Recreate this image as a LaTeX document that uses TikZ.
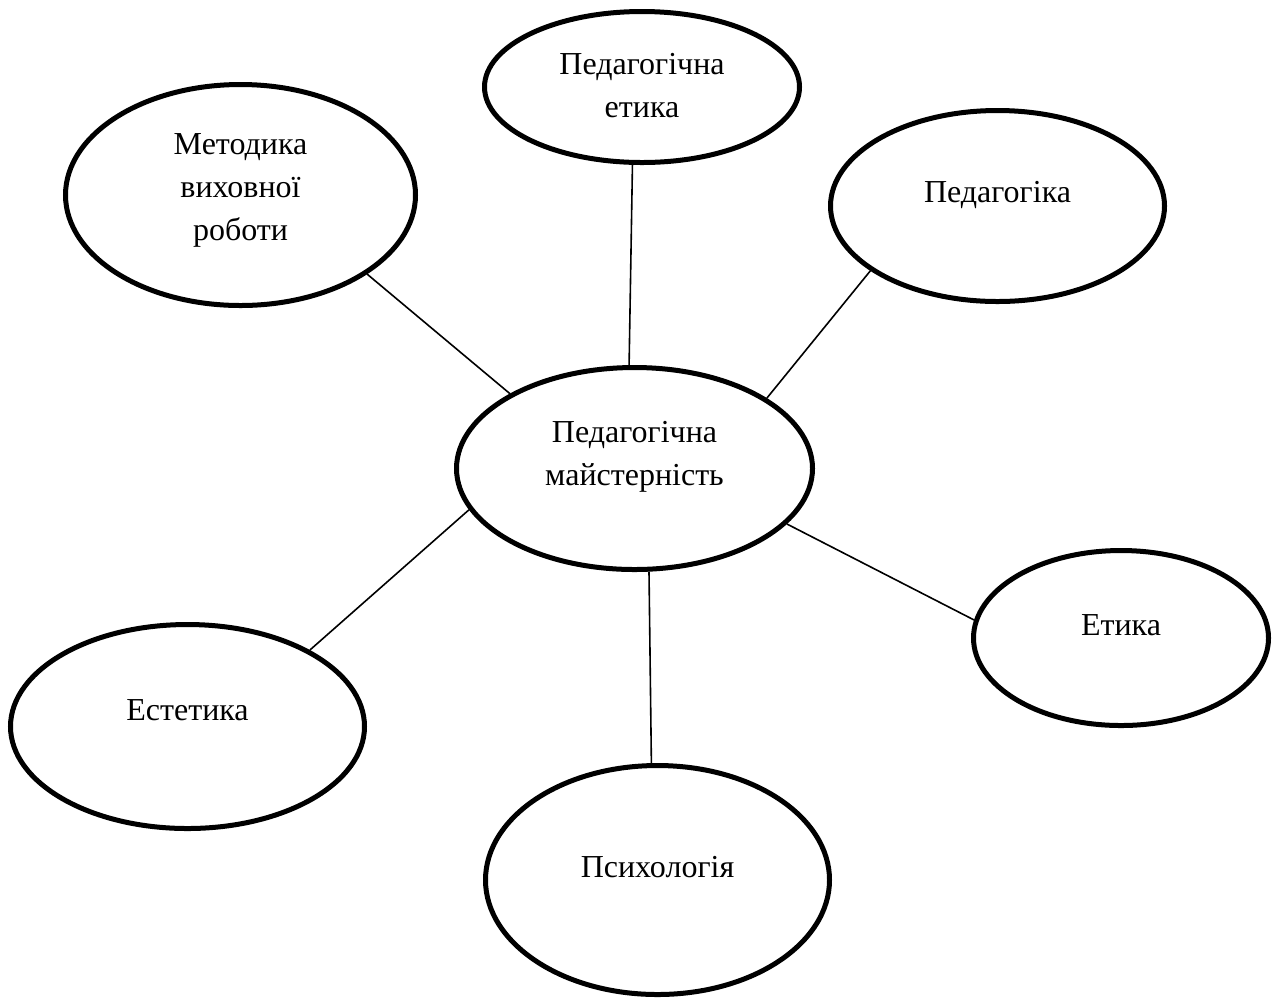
\documentclass[tikz,border=0pt]{standalone}
\usepackage{fontspec}
\setmainfont{Liberation Serif}
\usetikzlibrary{shapes.geometric}

\begin{document}
\begin{tikzpicture}[x=0.5pt,y=-0.5pt,
oval/.style={ellipse,draw,line width=2.5pt,inner sep=0pt,align=center,font=\fontsize{16}{21.5}\selectfont,text height=12pt},
con/.style={line width=0.8pt}]
%\draw[thin,gray,step=50] (0,0) grid (1272,998);
\useasboundingbox (0,0) rectangle (1272,998);

\node[oval,minimum width=178pt,minimum height=101pt,text height=22.5pt,text depth=6pt] (c) at (634.5,468.5) {Педагогічна\\майстерність};

\node[oval,minimum width=175pt,minimum height=110.5pt,text height=51pt,text depth=6pt] (metod) at (240.5,195) {Методика\\виховної\\роботи};
\node[oval,minimum width=157.5pt,minimum height=75.5pt,text height=36pt,text depth=6pt] (pedet) at (642,87) {Педагогічна\\етика};
\node[oval,minimum width=167pt,minimum height=95.5pt,text depth=16pt] (ped) at (997.5,206) {Педагогіка};
\node[oval,minimum width=147.5pt,minimum height=87.5pt,text depth=15pt] (et) at (1121,638) {Етика};
\node[oval,minimum width=172pt,minimum height=114.5pt,text depth=15pt] (psy) at (657.5,880) {Психологія};
\node[oval,minimum width=177pt,minimum height=102pt,text depth=18.5pt] (est) at (187.5,726.5) {Естетика};

\draw[con] (c.149) -- (metod.-32.7);
\draw[con] (c.93.6) -- (pedet.-97.3);
\draw[con] (c.28.3) -- (ped.207);
\draw[con] (c.-20.2) -- (et.173.9);
\draw[con] (c.-82.8) -- (psy.93.7);
\draw[con] (c.194.7) -- (est.32.6);

\end{tikzpicture}
\end{document}
